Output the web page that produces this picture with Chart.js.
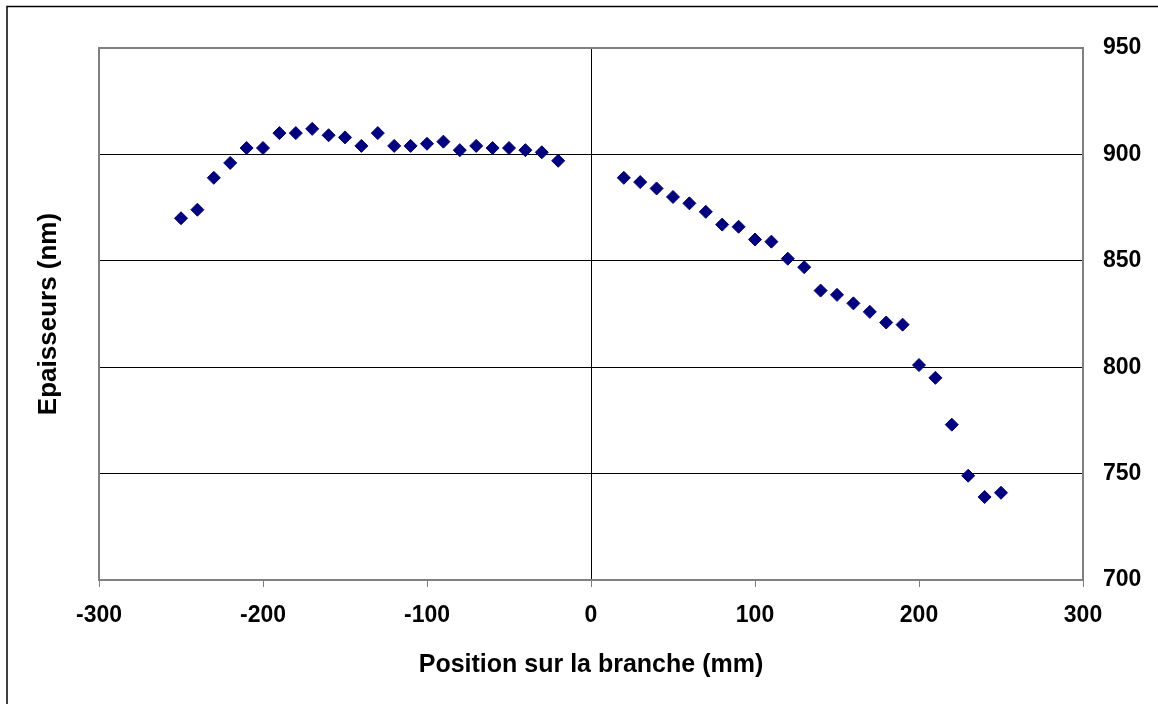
<!DOCTYPE html>
<html>
<head>
<meta charset="utf-8">
<script src="https://cdn.jsdelivr.net/npm/chart.js@4.4.1/dist/chart.umd.min.js"></script>
<style>
  html, body { margin: 0; padding: 0; background: #fff; }
  #wrap { width: 1158px; height: 704px; }
</style>
</head>
<body>
<div id="wrap"><canvas id="chart"></canvas></div>
<script>
// positions (mm) and thicknesses (nm)
const positions = [
    -250, -240, -230, -220, -210, -200, -190, -180, -170, -160, -150, -140,
    -130, -120, -110, -100, -90, -80, -70, -60, -50, -40, -30, -20,
    20, 30, 40, 50, 60, 70, 80, 90, 100, 110, 120, 130,
    140, 150, 160, 170, 180, 190, 200, 210, 220, 230, 240, 250
];
const epaisseurs = [
    870, 874, 889, 896, 903, 903, 910, 910, 912, 909, 908, 904,
    910, 904, 904, 905, 906, 902, 904, 903, 903, 902, 901, 897,
    889, 887, 884, 880, 877, 873, 867, 866, 860, 859, 851, 847,
    836, 834, 830, 826, 821, 820, 801, 795, 773, 749, 739, 741
];
const xTicks = [-300, -200, -100, 0, 100, 200, 300];
const yTicks = [700, 750, 800, 850, 900, 950];

const fontFamily = '"Liberation Sans", Arial, sans-serif';

let points = positions.map((x, i) => ({ x: x, y: epaisseurs[i] }));

// white page, outer frame and grey plot border
const framePlugin = {
    id: "frame",
    beforeDraw(chart) {
        let ctx = chart.ctx;
        ctx.save();
        ctx.fillStyle = "#fff";
        ctx.fillRect(0, 0, chart.width, chart.height);
        ctx.strokeStyle = "#000";
        ctx.lineWidth = 1.5;
        ctx.beginPath();
        ctx.moveTo(7, chart.height);
        ctx.lineTo(7, 6.5);
        ctx.lineTo(chart.width, 6.5);
        ctx.stroke();
        ctx.restore();
    },
    afterDatasetsDraw(chart) {
        let a = chart.chartArea;
        let ctx = chart.ctx;
        ctx.save();
        ctx.strokeStyle = "#808080";
        ctx.lineWidth = 2;
        ctx.strokeRect(a.left, a.top, a.right - a.left, a.bottom - a.top);
        ctx.restore();
    }
};

new Chart(document.getElementById("chart"), {
    type: "scatter",
    data: {
        datasets: [{
            data: points,
            pointStyle: "rectRot",
            pointRadius: 6.5,
            pointHoverRadius: 6.5,
            pointBorderWidth: 1,
            backgroundColor: "#000080",
            borderColor: "#000080"
        }]
    },
    options: {
        responsive: true,
        maintainAspectRatio: false,
        animation: false,
        events: [],
        layout: { padding: { top: 48, left: 0, right: 0, bottom: 0 } },
        plugins: {
            legend: { display: false },
            tooltip: { enabled: false }
        },
        scales: {
            x: {
                type: "linear",
                min: -300,
                max: 300,
                afterBuildTicks: (s) => { s.ticks = xTicks.map(v => ({ value: v })); },
                afterFit: (s) => { s.height = 124; },
                border: { display: false },
                grid: {
                    color: (c) => (c.tick && c.tick.value === 0 ? "#000" : "rgba(0,0,0,0)"),
                    lineWidth: 1,
                    drawTicks: true,
                    tickLength: 7,
                    tickColor: "#808080",
                    tickWidth: 1
                },
                ticks: {
                    color: "#000",
                    padding: 15,
                    maxRotation: 0,
                    font: { family: fontFamily, size: 23, weight: "bold" }
                },
                title: {
                    display: true,
                    text: "Position sur la branche (mm)",
                    color: "#000",
                    padding: { top: 0, bottom: 24 },
                    font: { family: fontFamily, size: 25, weight: "bold" }
                }
            },
            y: {
                type: "linear",
                position: "right",
                min: 700,
                max: 950,
                afterBuildTicks: (s) => { s.ticks = yTicks.map(v => ({ value: v })); },
                afterFit: (s) => { s.width = 75; },
                border: { display: false },
                grid: {
                    color: "#000",
                    lineWidth: 1,
                    drawTicks: false
                },
                ticks: {
                    color: "#000",
                    padding: 20,
                    font: { family: fontFamily, size: 23, weight: "bold" }
                }
            },
            yTitle: {
                type: "linear",
                position: "left",
                min: 700,
                max: 950,
                afterFit: (s) => { s.width = 99; },
                border: { display: false },
                grid: { display: false, drawTicks: false },
                ticks: { display: false },
                title: {
                    display: true,
                    text: "Epaisseurs (nm)",
                    color: "#000",
                    padding: { top: 33, bottom: 0 },
                    font: { family: fontFamily, size: 26, weight: "bold" }
                }
            }
        }
    },
    plugins: [framePlugin]
});
</script>
</body>
</html>
